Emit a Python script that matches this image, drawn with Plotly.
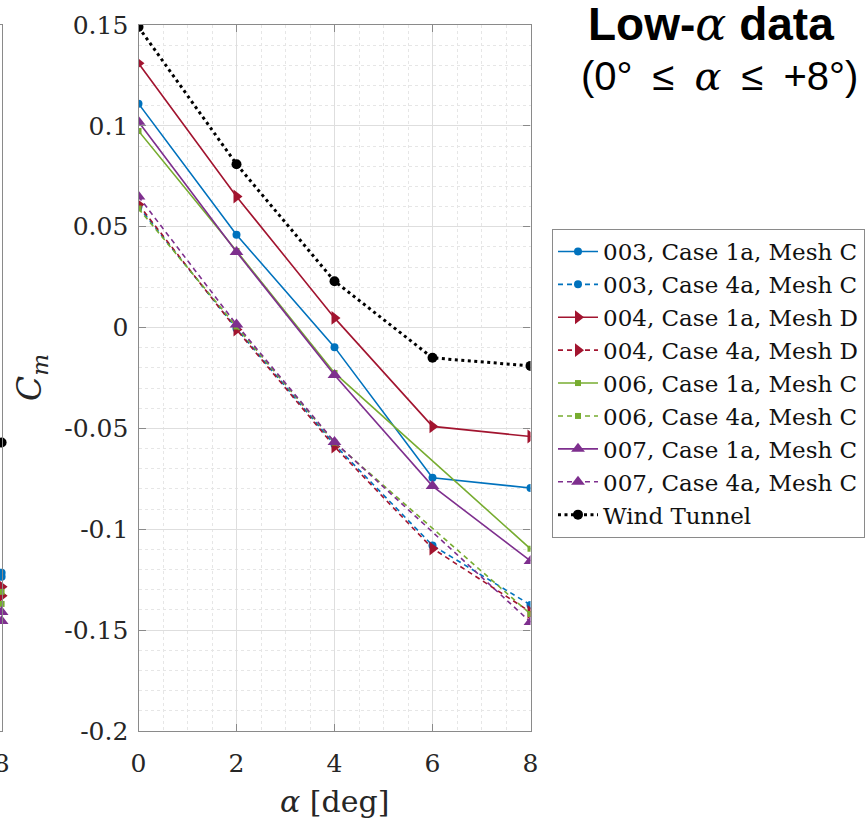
import plotly.graph_objects as go

W, H = 867, 823

# ---------------- data ----------------
alpha_all = [0, 2, 4, 6, 8]
alpha_no6 = [0, 2, 4, 8]

cm_003_1a = [0.111, 0.046, -0.0097, -0.0745, -0.0795]
cm_003_4a = [0.060, -0.0005, -0.0580, -0.1080, -0.1375]
cm_004_1a = [0.131, 0.065, 0.0048, -0.0490, -0.0540]
cm_004_4a = [0.061, -0.0010, -0.0590, -0.1095, -0.1410]
cm_006_1a = [0.0975, 0.0380, -0.0225, -0.1097]
cm_006_4a = [0.0590, 0.0005, -0.0570, -0.1420]
cm_007_1a = [0.102, 0.0375, -0.0235, -0.0786, -0.1157]
cm_007_4a = [0.065, 0.0015, -0.0567, -0.1460]
cm_wind = [0.149, 0.081, 0.023, -0.015, -0.019]

# neighbouring (cut-off) panel on the left edge: values at alpha = 8
nb_alpha = [8]
nb_wind = [-0.057]
nb_003 = [-0.1215, -0.1235]
nb_004 = [-0.1285, -0.1330]
nb_006 = [-0.1310, -0.1370]
nb_007 = [-0.1410, -0.1455]

x_tickvals = [0, 2, 4, 6, 8]
x_ticktext = ["0", "2", "4", "6", "8"]
y_tickvals = [0.15, 0.1, 0.05, 0, -0.05, -0.1, -0.15, -0.2]
y_ticktext = ["0.15", "0.1", "0.05", "0", "-0.05", "-0.1", "-0.15", "-0.2"]

BLUE = "#0072BD"
RED = "#A2142F"
GREEN = "#77AC30"
PURPLE = "#7E2F8E"
BLACK = "#000000"
DASH = "5px,4px"

series = [
    ("003, Case 1a, Mesh C", alpha_all, cm_003_1a, BLUE, "solid", "circle", 8),
    ("003, Case 4a, Mesh C", alpha_all, cm_003_4a, BLUE, DASH, "circle", 8),
    ("004, Case 1a, Mesh D", alpha_all, cm_004_1a, RED, "solid", "triangle-right", 12),
    ("004, Case 4a, Mesh D", alpha_all, cm_004_4a, RED, DASH, "triangle-right", 12),
    ("006, Case 1a, Mesh C", alpha_no6, cm_006_1a, GREEN, "solid", "square", 6),
    ("006, Case 4a, Mesh C", alpha_no6, cm_006_4a, GREEN, DASH, "square", 6),
    ("007, Case 1a, Mesh C", alpha_all, cm_007_1a, PURPLE, "solid", "triangle-up", 12),
    ("007, Case 4a, Mesh C", alpha_no6, cm_007_4a, PURPLE, DASH, "triangle-up", 12),
]

fig = go.Figure()

# neighbour panel fragments (drawn first, clipped by the page edge)
for vals, col, sym, sz in [
    (nb_003, BLUE, "circle", 8),
    (nb_004, RED, "triangle-right", 12),
    (nb_006, GREEN, "square", 6),
    (nb_007, PURPLE, "triangle-up", 12),
    (nb_wind, BLACK, "circle", 10),
]:
    fig.add_trace(go.Scatter(
        x=nb_alpha * len(vals), y=vals, mode="markers", xaxis="x2", yaxis="y2",
        marker=dict(color=col, symbol=sym, size=sz), cliponaxis=False,
        showlegend=False, hoverinfo="skip"))

for name, xs, ys, col, dash, sym, sz in series:
    fig.add_trace(go.Scatter(
        x=xs, y=ys, name=name, mode="lines+markers",
        line=dict(color=col, width=1.6, dash=dash),
        marker=dict(color=col, symbol=sym, size=sz),
    ))

fig.add_trace(go.Scatter(
    x=alpha_all, y=cm_wind, name="Wind Tunnel", mode="lines+markers",
    line=dict(color=BLACK, width=3, dash="3px,3.5px"),
    marker=dict(color=BLACK, symbol="circle", size=10),
))

x0, x1 = 138.5 / W, 530.5 / W
ytop, ybot = 25 / H, 731 / H
ydom = [1 - ybot, 1 - ytop]

TICKFONT = dict(family="DejaVu Serif", size=25, color="#262626")
AXCOL = "#8a8a8a"

fig.update_layout(
    width=W, height=H,
    margin=dict(l=0, r=0, t=0, b=0),
    paper_bgcolor="white", plot_bgcolor="white",
    showlegend=True,
    legend=dict(
        x=552 / W, y=1 - 229 / H, xanchor="left", yanchor="top",
        font=dict(family="DejaVu Serif", size=23, color="#111111"),
        bgcolor="white", bordercolor="#8a8a8a", borderwidth=1,
        tracegroupgap=0, itemwidth=40,
    ),
    xaxis=dict(
        domain=[x0, x1], range=[0, 8], anchor="y",
        tickvals=x_tickvals, ticktext=x_ticktext, tickfont=TICKFONT,
        ticks="inside", ticklen=7, tickcolor=AXCOL, ticklabelstandoff=10,
        showline=True, linecolor=AXCOL, linewidth=1.3, mirror="ticks",
        showgrid=True, gridcolor="#dedede", gridwidth=1, zeroline=False,
        minor=dict(dtick=0.5, showgrid=True, gridcolor="#e6e6e6", griddash="dot", gridwidth=1),
        automargin=False,
    ),
    yaxis=dict(
        domain=ydom, range=[-0.2, 0.15], anchor="x",
        tickvals=y_tickvals, ticktext=y_ticktext, tickfont=TICKFONT,
        ticks="inside", ticklen=7, tickcolor=AXCOL, ticklabelstandoff=4,
        showline=True, linecolor=AXCOL, linewidth=1.3, mirror="ticks",
        showgrid=True, gridcolor="#dedede", gridwidth=1, zeroline=False,
        minor=dict(dtick=0.01, showgrid=True, gridcolor="#e6e6e6", griddash="dot", gridwidth=1),
        automargin=False,
    ),
    xaxis2=dict(
        domain=[0, 1.6 / W], range=[7.99, 8], anchor="y2",
        tickvals=[8], ticktext=["8"], tickfont=TICKFONT, ticks="",
        ticklabelstandoff=10, ticklabeloverflow="allow",
        showline=True, linecolor=AXCOL, linewidth=1.3, mirror=True,
        showgrid=False, zeroline=False, automargin=False,
    ),
    yaxis2=dict(
        domain=ydom, range=[-0.2, 0.15], anchor="x2",
        showticklabels=False, ticks="", showgrid=False, zeroline=False,
        showline=True, linecolor=AXCOL, linewidth=1.3, mirror=True,
        automargin=False,
    ),
)

annotations = [
    dict(text="<i>α</i> [deg]", x=(x0 + x1) / 2, y=1 - 801 / H, xref="paper", yref="paper",
         showarrow=False, font=dict(family="DejaVu Serif", size=30, color="#262626"),
         xanchor="center", yanchor="middle"),
    dict(text="<i>C</i><sub><i>m</i></sub>", x=31 / W, y=1 - 378 / H, xref="paper", yref="paper",
         showarrow=False, textangle=-90, font=dict(family="DejaVu Serif", size=33, color="#262626"),
         xanchor="center", yanchor="middle"),
    dict(text="<b>Low-</b><span style='font-family:DejaVu Serif'><i>α</i></span><b> data</b>",
         x=711 / W, y=1 - 24 / H, xref="paper", yref="paper", showarrow=False,
         font=dict(family="Liberation Sans", size=46, color="black"),
         xanchor="center", yanchor="middle"),
    dict(text="(0°\u2002≤\u2002<span style='font-family:DejaVu Serif'><i>α</i></span>\u2002≤\u2002+8°)",
         x=719 / W, y=1 - 76 / H, xref="paper", yref="paper", showarrow=False,
         font=dict(family="Liberation Sans", size=40, color="black"),
         xanchor="center", yanchor="middle"),
]
fig.update_layout(annotations=annotations)

POST = (
    "document.body.style.margin='0px';"
    "document.body.style.overflow='hidden';"
    "document.documentElement.style.overflow='hidden';"
)

fig.write_html(
    "out.html",
    config={"displayModeBar": False, "responsive": False},
    post_script=POST,
)
